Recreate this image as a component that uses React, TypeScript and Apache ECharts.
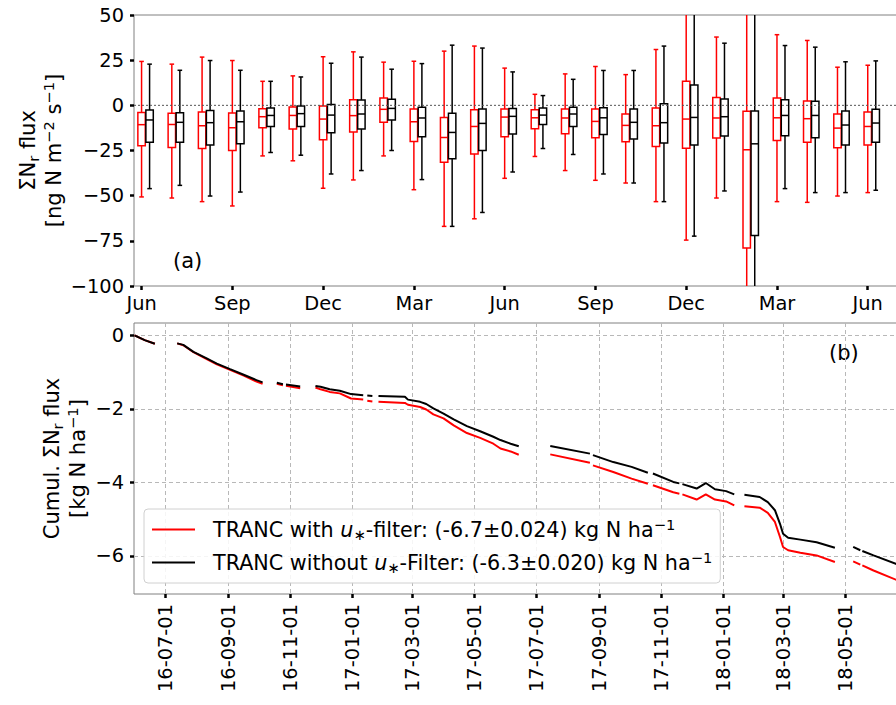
import React, { useEffect, useRef } from 'react';
import * as echarts from 'echarts';

const FONT = 'DejaVu Sans, Verdana, sans-serif';
const FS = 19.4; // tick labels
const FL = 21; // axis names, panel letters
const FLEG = 20.7; // legend
const FSUB = 14.7;

// ---------- panel (a): monthly box plots, month index 0 = Jun 2016 ----------
const topTickPositions = [0, 3, 6, 9, 12, 15, 18, 21, 24];
const topTickLabels = ['Jun', 'Sep', 'Dec', 'Mar', 'Jun', 'Sep', 'Dec', 'Mar', 'Jun'];
const yTopTicks = [-100, -75, -50, -25, 0, 25, 50];

// [whisker low, Q1, median, Q3, whisker high]
const boxWithFilter = [
  [-50.7, -22.4, -10.7, -3.9, 24.3],
  [-51.3, -23.3, -10.6, -4.4, 22.8],
  [-53.3, -23.9, -11.3, -3.7, 26.7],
  [-55.7, -25.0, -12.4, -4.3, 24.8],
  [-28.0, -12.4, -6.3, -1.9, 13.3],
  [-30.7, -13.1, -5.6, -0.9, 16.3],
  [-45.9, -19.1, -7.6, -0.4, 26.9],
  [-41.3, -14.8, -5.7, 3.1, 29.6],
  [-28.0, -9.3, -2.2, 4.1, 23.9],
  [-46.7, -20.0, -9.1, -2.0, 24.4],
  [-67.0, -31.5, -17.8, -6.7, 30.0],
  [-62.8, -26.9, -11.7, -2.4, 32.8],
  [-40.4, -17.4, -6.5, -2.0, 20.6],
  [-28.3, -13.0, -6.9, -2.4, 6.1],
  [-36.1, -15.7, -7.0, -2.0, 17.4],
  [-41.5, -18.0, -8.9, -2.0, 21.5],
  [-43.0, -20.2, -11.1, -4.8, 17.0],
  [-53.3, -22.8, -11.3, -1.5, 30.9],
  [-74.6, -23.7, -7.6, 13.3, 62.0],
  [-51.3, -18.1, -7.0, 4.4, 37.8],
  [-135.0, -78.9, -24.6, -3.3, 75.0],
  [-53.3, -19.4, -6.9, 4.1, 39.1],
  [-53.7, -20.4, -7.4, 2.4, 35.9],
  [-50.2, -23.5, -12.6, -4.8, 21.1],
  [-48.3, -22.0, -11.7, -3.7, 22.2],
];
const boxWithoutFilter = [
  [-46.1, -20.4, -8.1, -2.6, 22.8],
  [-44.3, -20.4, -9.4, -4.1, 19.4],
  [-50.2, -22.0, -9.6, -2.8, 24.8],
  [-48.0, -21.3, -9.1, -3.1, 19.4],
  [-26.1, -11.7, -5.6, -1.5, 13.3],
  [-27.6, -11.7, -4.6, -0.4, 15.7],
  [-38.0, -15.2, -5.4, 0.4, 23.3],
  [-36.1, -13.1, -4.8, 3.0, 26.7],
  [-25.0, -8.1, -1.7, 3.3, 20.0],
  [-41.1, -17.4, -7.0, -1.1, 23.1],
  [-67.0, -29.6, -15.0, -4.4, 33.3],
  [-59.3, -25.0, -10.0, -2.0, 31.7],
  [-36.9, -15.9, -6.1, -1.7, 18.5],
  [-23.9, -10.6, -5.4, -1.5, 5.4],
  [-27.2, -11.7, -4.8, -1.1, 14.4],
  [-38.0, -16.1, -6.9, -1.3, 19.3],
  [-43.0, -18.7, -9.4, -2.0, 19.3],
  [-53.3, -20.9, -9.6, 0.9, 32.8],
  [-72.4, -22.0, -6.7, 11.3, 60.0],
  [-47.4, -17.0, -6.3, 3.5, 34.4],
  [-140.0, -72.0, -21.3, -3.1, 80.0],
  [-46.1, -16.9, -5.6, 3.1, 33.1],
  [-48.3, -18.0, -5.6, 2.2, 32.2],
  [-48.3, -21.9, -10.9, -3.1, 24.1],
  [-47.0, -20.4, -9.8, -2.2, 24.6],
];

// ---------- panel (b): cumulative flux (null = data gap) ----------
const cumDates = [
  '2016-06-01', '2016-06-11', '2016-06-21', '2016-07-02',
  '2016-07-13', '2016-07-19', '2016-07-29', '2016-08-11', '2016-08-21', '2016-09-03',
  '2016-09-17', '2016-09-29', '2016-10-05', '2016-10-12',
  '2016-10-19', '2016-10-25', '2016-10-26',
  '2016-10-28', '2016-11-11', '2016-11-18',
  '2016-11-26', '2016-12-01', '2016-12-10', '2016-12-20', '2016-12-31', '2017-01-12', '2017-01-14',
  '2017-01-16', '2017-01-21', '2017-01-24',
  '2017-01-27', '2017-02-22', '2017-02-25', '2017-03-09', '2017-03-15', '2017-03-22',
  '2017-04-01', '2017-04-11', '2017-04-24', '2017-05-07', '2017-05-20', '2017-05-27',
  '2017-06-06', '2017-06-14', '2017-06-30',
  '2017-07-15', '2017-08-23', '2017-08-24',
  '2017-08-26', '2017-09-15', '2017-10-03', '2017-10-19', '2017-10-21',
  '2017-10-24', '2017-11-13', '2017-11-19', '2017-11-20',
  '2017-11-22', '2017-12-06', '2017-12-15', '2017-12-24', '2018-01-04', '2018-01-12', '2018-01-17',
  '2018-01-22', '2018-02-06', '2018-02-14', '2018-02-21', '2018-02-26', '2018-03-01',
  '2018-03-06', '2018-03-18', '2018-04-03', '2018-04-21', '2018-04-30',
  '2018-05-09', '2018-05-16', '2018-05-17',
  '2018-05-18', '2018-05-29', '2018-06-20', '2018-06-23',
];
const cumWithoutFilter = [
  0, -0.13, -0.23, null,
  -0.22, -0.26, -0.45, -0.63, -0.77, -0.92,
  -1.08, -1.22, -1.28, null,
  -1.29, -1.33, null,
  -1.34, -1.39, null,
  -1.38, -1.40, -1.47, -1.51, -1.60, -1.63, null,
  -1.64, -1.65, null,
  -1.65, -1.67, -1.75, -1.81, -1.87, -1.99,
  -2.13, -2.29, -2.47, -2.61, -2.76, -2.85,
  -2.95, -3.02, null,
  -3.01, -3.22, null,
  -3.26, -3.45, -3.58, -3.74, null,
  -3.76, -3.99, -4.03, null,
  -4.05, -4.17, -4.02, -4.19, -4.24, -4.33, null,
  -4.34, -4.40, -4.54, -4.76, -5.13, -5.40,
  -5.51, -5.56, -5.63, -5.78, null,
  -5.76, -5.85, null,
  -5.87, -5.99, -6.22, -6.26,
];
const cumWithFilter = [
  0, -0.13, -0.23, null,
  -0.22, -0.27, -0.46, -0.65, -0.79, -0.94,
  -1.10, -1.26, -1.32, null,
  -1.32, -1.36, null,
  -1.37, -1.44, null,
  -1.42, -1.47, -1.54, -1.58, -1.72, -1.75, null,
  -1.78, -1.80, null,
  -1.81, -1.84, -1.89, -1.95, -2.02, -2.15,
  -2.26, -2.45, -2.66, -2.79, -2.95, -3.08,
  -3.16, -3.25, null,
  -3.24, -3.47, null,
  -3.54, -3.72, -3.90, -4.04, null,
  -4.08, -4.27, -4.31, null,
  -4.33, -4.47, -4.33, -4.47, -4.52, -4.63, null,
  -4.65, -4.69, -4.83, -5.08, -5.49, -5.76,
  -5.85, -5.92, -5.99, -6.17, null,
  -6.15, -6.24, null,
  -6.26, -6.40, -6.65, -6.69,
];
const bottomTickDates = [
  '2016-07-01', '2016-09-01', '2016-11-01', '2017-01-01', '2017-03-01', '2017-05-01',
  '2017-07-01', '2017-09-01', '2017-11-01', '2018-01-01', '2018-03-01', '2018-05-01',
];
const yBottomTicks = [0, -2, -4, -6];

const seriesNames = ['with', 'without'];
const legendLabels: Record<string, string> = {
  with: '{t|TRANC with }{i|u}{s|∗}{n|-filter: (-6.7±0.024) kg N ha}{p|−1}',
  without: '{t|TRANC without }{i|u}{s|∗}{n|-Filter: (-6.3±0.020) kg N ha}{p|−1}',
};

// ---------- helpers ----------
const ts = (s: string, hours = 0) => {
  const [y, m, d] = s.split('-').map(Number);
  return new Date(y, m - 1, d, hours).getTime();
};
const minusFmt = (v: number) => (v < 0 ? '\u2212' + Math.abs(v) : String(v));
const pad2 = (n: number) => (n < 10 ? '0' + n : String(n));
const dateFmt = (v: number) => {
  const d = new Date(v);
  return `${pad2(d.getFullYear() % 100)}-${pad2(d.getMonth() + 1)}-${pad2(d.getDate())}`;
};

const RED = '#ff0000';
const BLACK = '#000000';
const BOX_W = 0.245;
const RED_OFFSET = 0;
const BLACK_OFFSET = 0.265;

function makeRenderItem(color: string) {
  return (params: any, api: any) => {
    const x = api.value(0);
    const half = api.size([BOX_W, 0])[0] / 2;
    const cap = half * 0.62;
    const cx = api.coord([x, 0])[0];
    const yLo = api.coord([x, api.value(1)])[1];
    const yQ1 = api.coord([x, api.value(2)])[1];
    const yMed = api.coord([x, api.value(3)])[1];
    const yQ3 = api.coord([x, api.value(4)])[1];
    const yHi = api.coord([x, api.value(5)])[1];
    const style = { stroke: color, lineWidth: 1.5, fill: 'none' };
    return {
      type: 'group',
      children: [
        { type: 'line', shape: { x1: cx, y1: yLo, x2: cx, y2: yQ1 }, style },
        { type: 'line', shape: { x1: cx, y1: yQ3, x2: cx, y2: yHi }, style },
        { type: 'line', shape: { x1: cx - cap, y1: yLo, x2: cx + cap, y2: yLo }, style },
        { type: 'line', shape: { x1: cx - cap, y1: yHi, x2: cx + cap, y2: yHi }, style },
        { type: 'rect', shape: { x: cx - half, y: yQ3, width: 2 * half, height: yQ1 - yQ3 }, style },
        { type: 'line', shape: { x1: cx - half, y1: yMed, x2: cx + half, y2: yMed }, style },
      ],
    };
  };
}

const nameRich = {
  n: { fontFamily: FONT, fontSize: FL, color: '#000', lineHeight: 26 },
  sb: { fontFamily: FONT, fontSize: FSUB, color: '#000', lineHeight: 12, verticalAlign: 'bottom' },
  sp: { fontFamily: FONT, fontSize: FSUB, color: '#000', lineHeight: 9, verticalAlign: 'top' },
};

function buildOption() {
  const xMinB = ts('2016-05-31', 12);
  const xMaxB = ts('2018-06-22', 2);
  const tickStyle = { show: true, inside: false, length: 4, lineStyle: { color: '#000', width: 2.5 } };
  const labelStyle = { color: '#000', fontFamily: FONT, fontSize: FS };
  const gridLine = { show: true, lineStyle: { color: '#b8b8b8', width: 1, type: [4, 3] } };
  const noLine = { show: false, onZero: false };

  const legendRich = {
    t: { fontFamily: FONT, fontSize: FLEG, color: '#000', lineHeight: 25, padding: [0, 0, 0, 13] },
    n: { fontFamily: FONT, fontSize: FLEG, color: '#000', lineHeight: 25 },
    i: { fontFamily: FONT, fontSize: FLEG, fontStyle: 'italic', color: '#000', lineHeight: 25 },
    s: { fontFamily: FONT, fontSize: FSUB, color: '#000', lineHeight: 10, verticalAlign: 'bottom' },
    p: { fontFamily: FONT, fontSize: FSUB, color: '#000', lineHeight: 9, verticalAlign: 'top' },
  };

  return {
    animation: false,
    backgroundColor: '#ffffff',
    textStyle: { fontFamily: FONT },
    grid: [
      { left: 134, top: 15, right: 2, height: 271, show: true, borderColor: '#808080', borderWidth: 1, backgroundColor: 'transparent', containLabel: false, outerBoundsMode: 'none' },
      { left: 134, top: 323, right: 2, height: 271, show: true, borderColor: '#808080', borderWidth: 1, backgroundColor: 'transparent', containLabel: false, outerBoundsMode: 'none' },
    ],
    xAxis: [
      {
        type: 'value', gridIndex: 0, min: -0.25, max: 25, position: 'bottom',
        axisLine: noLine,
        axisTick: { ...tickStyle, customValues: topTickPositions },
        axisLabel: {
          ...labelStyle, margin: 8, customValues: topTickPositions,
          formatter: (v: number) => topTickLabels[topTickPositions.indexOf(Math.round(v))] ?? '',
        },
        splitLine: { show: false },
      },
      {
        type: 'value', gridIndex: 1, min: xMinB, max: xMaxB, position: 'bottom',
        axisLine: noLine,
        axisTick: { ...tickStyle, customValues: bottomTickDates.map((d) => ts(d)) },
        axisLabel: { ...labelStyle, margin: 10, rotate: 90, customValues: bottomTickDates.map((d) => ts(d)), formatter: dateFmt },
        splitLine: gridLine,
      },
    ],
    yAxis: [
      {
        type: 'value', gridIndex: 0, min: -100, max: 50, interval: 25, position: 'left',
        axisLine: noLine,
        axisTick: { ...tickStyle, customValues: yTopTicks },
        axisLabel: { ...labelStyle, margin: 10, customValues: yTopTicks, formatter: minusFmt },
        splitLine: { show: false },
      },
      {
        type: 'value', gridIndex: 1, min: -7.04, max: 0.335, position: 'left',
        axisLine: noLine,
        axisTick: { ...tickStyle, customValues: yBottomTicks },
        axisLabel: { ...labelStyle, margin: 10, customValues: yBottomTicks, formatter: minusFmt },
        splitLine: gridLine,
      },
    ],
    legend: {
      data: seriesNames,
      orient: 'vertical', left: 144, top: 509,
      icon: 'rect', itemWidth: 43, itemHeight: 2, itemGap: 8,
      padding: [8, 8, 8, 8],
      backgroundColor: 'rgba(255,255,255,0.85)', borderColor: '#d0d0d0', borderWidth: 1, borderRadius: 4,
      selectedMode: false,
      formatter: (name: string) => legendLabels[name],
      textStyle: { fontFamily: FONT, fontSize: FLEG, color: '#000', rich: legendRich },
    },
    series: [
      {
        type: 'line', name: 'zero', xAxisIndex: 0, yAxisIndex: 0, silent: true,
        data: [[-0.25, 0], [25, 0]], symbol: 'none',
        lineStyle: { color: '#555', width: 1, type: [2, 2] },
      },
      {
        type: 'custom', name: 'boxWith', xAxisIndex: 0, yAxisIndex: 0, clip: true,
        renderItem: makeRenderItem(RED),
        encode: { x: 0, y: [1, 2, 3, 4, 5] },
        data: boxWithFilter.map((b, i) => [i + RED_OFFSET, ...b]),
      },
      {
        type: 'custom', name: 'boxWithout', xAxisIndex: 0, yAxisIndex: 0, clip: true,
        renderItem: makeRenderItem(BLACK),
        encode: { x: 0, y: [1, 2, 3, 4, 5] },
        data: boxWithoutFilter.map((b, i) => [i + BLACK_OFFSET, ...b]),
      },
      {
        type: 'line', name: 'with', xAxisIndex: 1, yAxisIndex: 1,
        data: cumDates.map((d, i) => [ts(d), cumWithFilter[i] == null ? '-' : cumWithFilter[i]]),
        symbol: 'none', showSymbol: false, connectNulls: false, color: RED,
        lineStyle: { color: RED, width: 2 }, itemStyle: { color: RED },
      },
      {
        type: 'line', name: 'without', xAxisIndex: 1, yAxisIndex: 1,
        data: cumDates.map((d, i) => [ts(d), cumWithoutFilter[i] == null ? '-' : cumWithoutFilter[i]]),
        symbol: 'none', showSymbol: false, connectNulls: false, color: BLACK,
        lineStyle: { color: BLACK, width: 2 }, itemStyle: { color: BLACK },
      },
    ],
    graphic: [
      {
        type: 'text', x: 41, y: 150.5, rotation: Math.PI / 2, silent: true,
        style: {
          text: '{n|ΣN}{sb|r}{n| flux}\n{n|[ng N m}{sp|−2}{n| s}{sp|−1}{n|]}',
          rich: nameRich, align: 'center', verticalAlign: 'middle', fontFamily: FONT, fontSize: FL, fill: '#000',
        },
      },
      {
        type: 'text', x: 65, y: 458.5, rotation: Math.PI / 2, silent: true,
        style: {
          text: '{n|Cumul. ΣN}{sb|r}{n| flux}\n{n|[kg N ha}{sp|−1}{n|]}',
          rich: nameRich, align: 'center', verticalAlign: 'middle', fontFamily: FONT, fontSize: FL, fill: '#000',
        },
      },
      {
        type: 'text', x: 173, y: 261, silent: true,
        style: { text: '(a)', fontFamily: FONT, fontSize: FL, fill: '#000', align: 'left', verticalAlign: 'middle' },
      },
      {
        type: 'text', x: 829, y: 353, silent: true,
        style: { text: '(b)', fontFamily: FONT, fontSize: FL, fill: '#000', align: 'left', verticalAlign: 'middle' },
      },
    ],
  };
}

export default function App() {
  const ref = useRef<HTMLDivElement>(null);
  useEffect(() => {
    if (!ref.current) return;
    const chart = echarts.init(ref.current, null, { renderer: 'svg' });
    chart.setOption(buildOption() as any);
    return () => chart.dispose();
  }, []);
  return (
    <div style={{ position: 'fixed', left: 0, top: 0, width: 896, height: 705, overflow: 'hidden', background: '#fff' }}>
      <div ref={ref} style={{ width: 900, height: 705 }} />
    </div>
  );
}
